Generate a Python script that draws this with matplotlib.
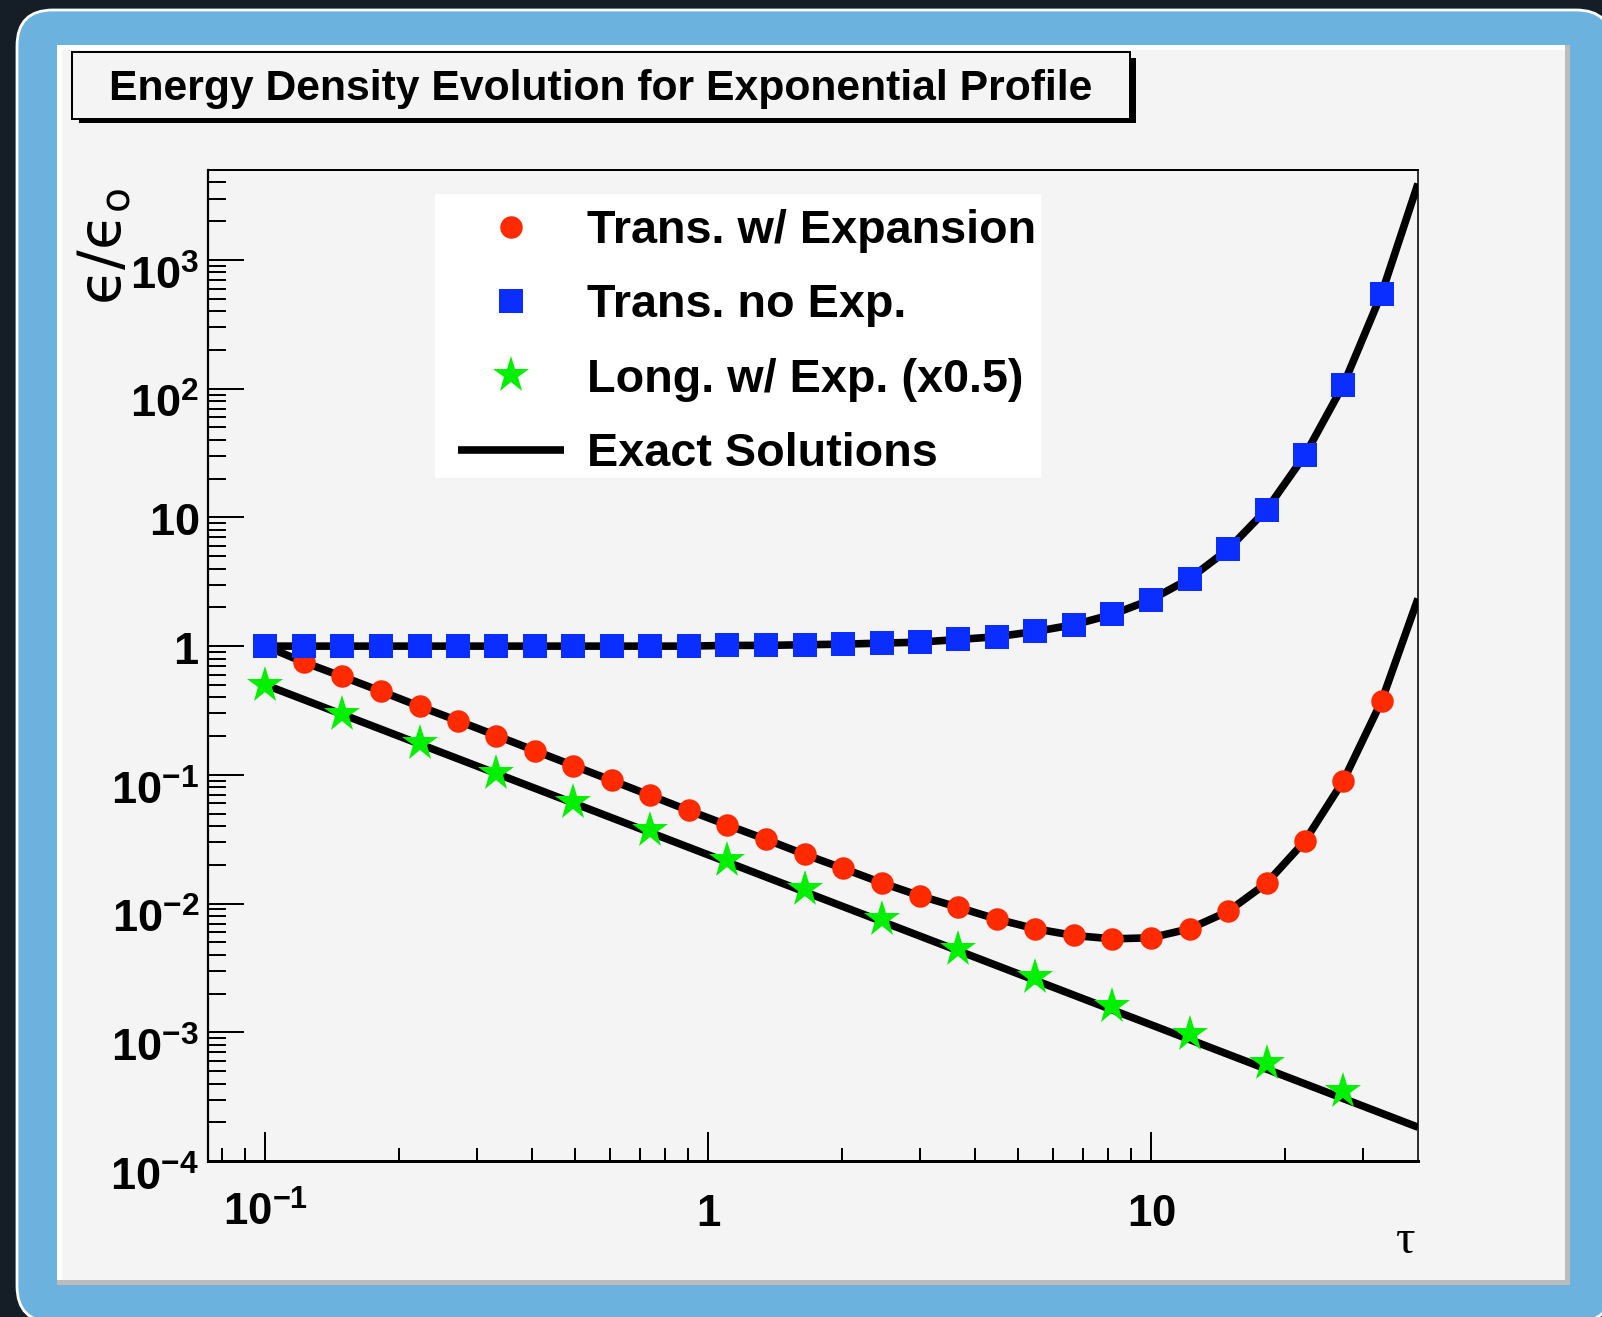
import matplotlib
matplotlib.use("Agg")
import matplotlib.pyplot as plt
from matplotlib.patches import FancyBboxPatch, Rectangle
from matplotlib.ticker import NullFormatter
from matplotlib.transforms import ScaledTranslation

# ---------------- data ----------------
tau = [0.100, 0.122, 0.149, 0.182, 0.223, 0.272, 0.332, 0.406, 0.495, 0.605,
       0.739, 0.902, 1.10, 1.35, 1.65, 2.01, 2.46, 3.00, 3.67, 4.48,
       5.47, 6.69, 8.17, 9.97, 12.2, 14.9, 18.2, 22.2, 27.1, 33.1]

trans_exp = [1.0, 0.751, 0.581, 0.447, 0.340, 0.263, 0.202, 0.154, 0.118, 0.0905,
             0.0692, 0.0529, 0.0409, 0.0315, 0.0241, 0.0188, 0.0145, 0.0115, 0.00933, 0.00757,
             0.00637, 0.00565, 0.00532, 0.00542, 0.00637, 0.00869, 0.0144, 0.0305, 0.0893, 0.374]

trans_noexp = [1.0, 1.0, 1.0, 1.0, 1.0, 1.0, 1.0, 1.0, 1.0, 1.0,
               1.0, 1.0, 1.013, 1.013, 1.025, 1.036, 1.055, 1.074, 1.127, 1.183,
               1.30, 1.466, 1.763, 2.29, 3.34, 5.64, 11.5, 30.3, 106.0, 547.0]

tau_long = [0.100, 0.149, 0.223, 0.332, 0.495, 0.739, 1.10, 1.65, 2.46, 3.67,
            5.47, 8.17, 12.2, 18.2, 27.1]
long_exp_half = [0.50, 0.298, 0.176, 0.103, 0.0613, 0.0370, 0.0219, 0.01294, 0.00754, 0.00447,
                 0.00268, 0.00161, 0.000962, 0.000575, 0.000347]

# exact-solution curves
exact_tau_end = 40.0
exact_trans_exp_end = 2.34
exact_trans_noexp_end = 3917.0
exact_long_tau = [0.100, 40.0]
exact_long = [0.50, 1.83e-4]

x_major = [0.1, 1, 10]
x_major_labels = [r"$10^{-1}$", r"$1$", r"$10$"]
y_major = [1e-4, 1e-3, 1e-2, 1e-1, 1, 10, 100, 1000]
y_major_labels = [r"$10^{-4}$", r"$10^{-3}$", r"$10^{-2}$", r"$10^{-1}$",
                  r"$1$", r"$10$", r"$10^{2}$", r"$10^{3}$"]

legend_labels = ["Trans. w/ Expansion", "Trans. no Exp.",
                 "Long. w/ Exp. (x0.5)", "Exact Solutions"]
title = "Energy Density Evolution for Exponential Profile"

# ---------------- style ----------------
W, H, DPI = 1602, 1317, 100
plt.rcParams["font.family"] = ["Liberation Sans", "DejaVu Sans"]
plt.rcParams["mathtext.fontset"] = "custom"
plt.rcParams["mathtext.rm"] = "Liberation Sans:bold"
plt.rcParams["mathtext.bf"] = "Liberation Sans:bold"
plt.rcParams["mathtext.it"] = "Liberation Sans:bold"
plt.rcParams["mathtext.sf"] = "Liberation Sans:bold"
plt.rcParams["mathtext.default"] = "bf"

RED = "#ff2a00"
BLUE = "#0a2eff"
GREEN = "#00f000"
PANEL = "#f4f4f4"
PX = 72.0 / DPI  # points per pixel

fig = plt.figure(figsize=(W / DPI, H / DPI), dpi=DPI)

# ---------------- background / frame (pixel coords) ----------------
bg = fig.add_axes([0, 0, 1, 1], zorder=-10)
bg.set_xlim(0, W)
bg.set_ylim(H, 0)
bg.axis("off")
bg.add_patch(Rectangle((0, 0), W, H, facecolor="#151d27", edgecolor="none"))
bg.add_patch(FancyBboxPatch((17, 10), 1595, 1312,
                            boxstyle="round,pad=0,rounding_size=36",
                            facecolor="#6cb2de", edgecolor="white", linewidth=2.0))
bg.add_patch(Rectangle((57, 45), 1513, 1240, facecolor="#bcbcbc", edgecolor="none"))
bg.add_patch(Rectangle((57, 45), 1508, 1235, facecolor="white", edgecolor="none"))
bg.add_patch(Rectangle((62, 50), 1503, 1230, facecolor=PANEL, edgecolor="none"))

# title box with shadow
bg.add_patch(Rectangle((79, 58), 1057, 65, facecolor="black", edgecolor="none"))
bg.add_patch(Rectangle((72, 52), 1058, 67, facecolor=PANEL, edgecolor="black",
                       linewidth=2.0 * PX))
bg.text(601, 100, title, ha="center", va="baseline", fontsize=30.7,
        fontweight="bold", color="black")

# axis titles
bg.text(104, 188, r"$\mathrm{ϵ/ϵ_{o}}$", rotation=90, ha="center", va="top",
        fontsize=42, math_fontfamily="dejavusans", color="black")
bg.text(1406, 1253, "τ", ha="center", va="baseline", fontsize=35,
        fontfamily=["Liberation Serif", "DejaVu Serif"], fontweight="normal",
        color="black")

# ---------------- main axes ----------------
L, R, T, B = 208, 1418, 170, 1161
ax = fig.add_axes([L / W, (H - B) / H, (R - L) / W, (B - T) / H])
ax.set_facecolor(PANEL)
ax.set_xscale("log")
ax.set_yscale("log")
ax.set_xlim(0.0742, 40)
ax.set_ylim(1e-4, 5000)

lw_exact = 7.6 * PX
ax.plot(exact_long_tau, exact_long, color="black", lw=lw_exact, zorder=2,
        solid_capstyle="butt")
ax.plot(tau + [exact_tau_end], trans_exp + [exact_trans_exp_end], color="black",
        lw=lw_exact, zorder=2, solid_capstyle="butt")
h_line, = ax.plot(tau + [exact_tau_end], trans_noexp + [exact_trans_noexp_end],
                  color="black", lw=lw_exact, zorder=2, solid_capstyle="butt")

h_red, = ax.plot(tau, trans_exp, ls="none", marker="o", ms=22.5 * PX,
                 mfc=RED, mec=RED, mew=0, zorder=3)
h_blue, = ax.plot(tau, trans_noexp, ls="none", marker="s", ms=24.3 * PX,
                  mfc=BLUE, mec=BLUE, mew=0, zorder=3.2)
h_green, = ax.plot(tau_long, long_exp_half, ls="none", marker="*", ms=38.8 * PX,
                   mfc=GREEN, mec=GREEN, mew=0, zorder=3.1)

# ticks
x_minor = [0.08, 0.09] + [k * 0.1 for k in range(2, 10)] + \
          [k * 1.0 for k in range(2, 10)] + [20, 30]
y_minor = []
for dec in [1e-4, 1e-3, 1e-2, 1e-1, 1, 10, 100]:
    y_minor += [k * dec for k in range(2, 10)]
y_minor += [2000, 3000, 4000]

ax.set_xticks(x_major, labels=x_major_labels)
ax.set_xticks(x_minor, minor=True)
ax.set_yticks(y_major, labels=y_major_labels)
ax.set_yticks(y_minor, minor=True)
ax.xaxis.set_minor_formatter(NullFormatter())
ax.yaxis.set_minor_formatter(NullFormatter())

ax.tick_params(axis="x", which="major", direction="in", length=29 * PX, width=2 * PX,
               top=False, labelsize=31.5, pad=65 * PX)
ax.tick_params(axis="x", which="minor", direction="in", length=13 * PX, width=2 * PX,
               top=False)
ax.tick_params(axis="y", which="major", direction="in", length=36 * PX, width=2 * PX,
               right=False, labelsize=32.5, pad=9 * PX)
ax.tick_params(axis="y", which="minor", direction="in", length=18 * PX, width=2 * PX,
               right=False)
for lbl in ax.get_xticklabels():
    lbl.set_va("baseline")
# y labels: whole label (incl. exponent) centred on the tick, as in ROOT
for tick, lab in zip(ax.yaxis.get_major_ticks(), y_major_labels):
    dy = 29.5 if "^" in lab else 17.5
    tick.label1.set_va("baseline")
    tick.label1.set_transform(tick.label1.get_transform() +
                              ScaledTranslation(0, -dy / DPI, fig.dpi_scale_trans))

for side, w in [("left", 2.2), ("bottom", 3.0), ("top", 2.0), ("right", 1.6)]:
    ax.spines[side].set_linewidth(w * PX)
    ax.spines[side].set_color("black")

# legend (white box + entries)
ax.add_artist(Rectangle((435 / W, 1 - 478 / H), (1041 - 435) / W, (478 - 194) / H,
                        transform=fig.transFigure, facecolor="white",
                        edgecolor="none", zorder=4))
leg = ax.legend([h_red, h_blue, h_green, h_line], legend_labels,
                loc="upper left", bbox_to_anchor=(458 / W, 1 - 209 / H),
                bbox_transform=fig.transFigure, frameon=False,
                prop={"size": 33.7, "weight": "bold"},
                numpoints=1, handlelength=106 / 46.8, handletextpad=23 / 46.8,
                borderpad=0, borderaxespad=0, labelspacing=0.65)
leg.set_zorder(5)

fig.savefig("out.png", dpi=DPI)
